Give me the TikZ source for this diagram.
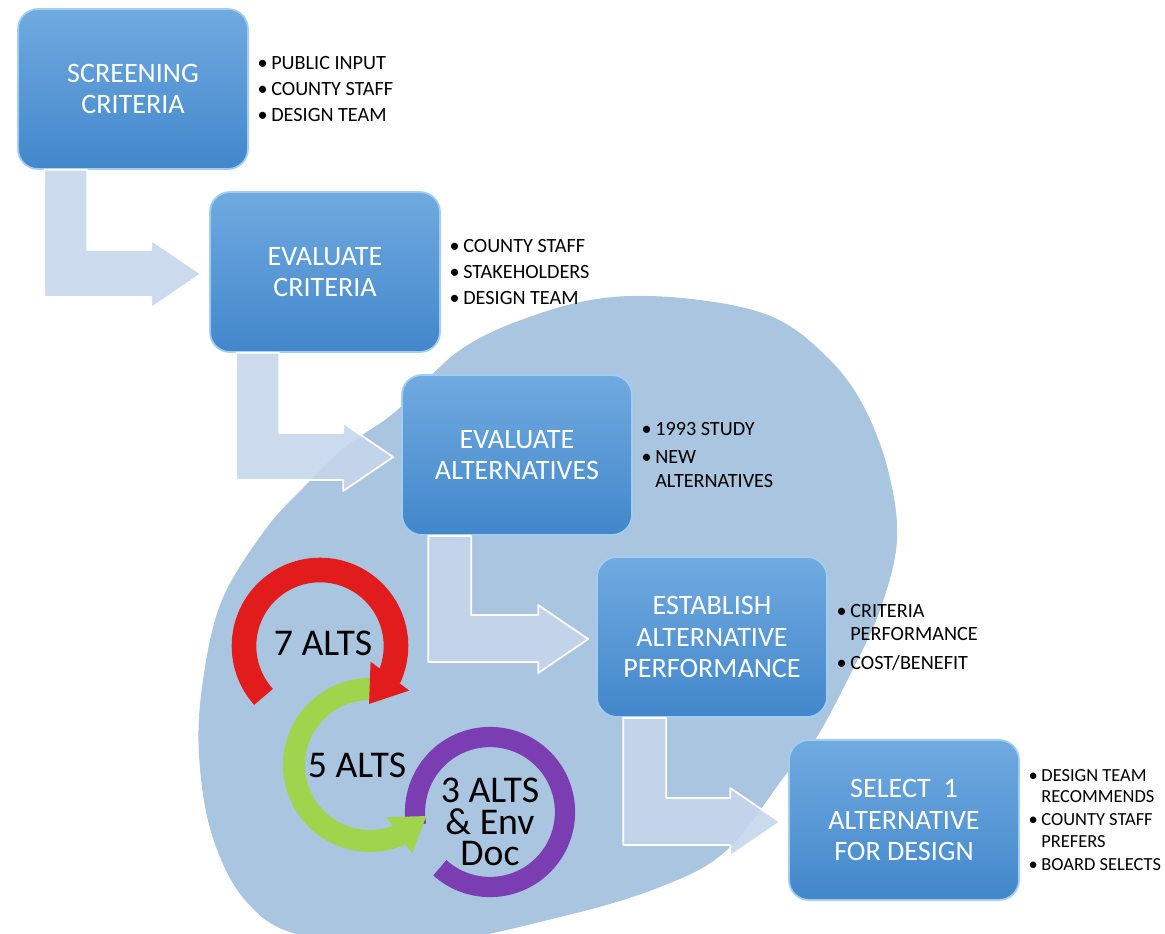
\documentclass[tikz,border=0pt]{standalone}
\usepackage{fontspec}
\setmainfont{Carlito}
\usetikzlibrary{positioning,calc,arrows.meta,bending}
\definecolor{blobblue}{RGB}{170,197,224}
\definecolor{boxtop}{RGB}{112,170,224}
\definecolor{boxbot}{RGB}{66,135,203}
\definecolor{boxrim}{RGB}{160,205,240}
\definecolor{arrowfill}{RGB}{198,214,236}
\definecolor{ringred}{RGB}{226,28,28}
\definecolor{ringgreen}{RGB}{160,212,76}
\definecolor{ringpurple}{RGB}{122,62,178}
\newcommand{\itm}{\textbullet\hspace{2pt}}
\newcommand{\cnt}{\hphantom{\textbullet\hspace{2pt}}}
\begin{document}
\begin{tikzpicture}[x=0.02cm,y=-0.02cm,line join=round,
	stepbox/.style={rounded corners=0.4cm,minimum width=4.6cm,minimum height=3.2cm,top color=boxtop,bottom color=boxbot,draw=boxrim,line width=1pt,text=white,align=center,font=\fontsize{16}{18}\selectfont},
	notes/.style={right=0.17cm of #1,align=left,inner sep=0pt,font=\fontsize{11.5}{13.5}\selectfont},
	flowarrow/.style={fill=arrowfill,draw=white,line width=1pt,fill opacity=.9},
	ring/.style={line width=#1,line cap=butt},
	alts/.style={font=\fontsize{21.5}{18}\selectfont,align=center}]
	\useasboundingbox (0,0) rectangle (1165,933);
	\fill[blobblue] plot[smooth cycle,tension=.6] coordinates {(613,297) (700,300) (775,318) (828,358) (863,405) (888,470) (897,540) (880,610) (850,675) (815,740) (787,773) (727,850) (660,887) (560,917) (420,945) (300,935) (245,900) (212,835) (199,755) (203,680) (222,600) (265,530) (303,488) (345,447) (395,412) (460,350) (535,315)};
	\node[stepbox] (b1) at (133,89) {SCREENING\\CRITERIA};
	\node[stepbox] (b2) at (325,272) {EVALUATE\\CRITERIA};
	\node[stepbox] (b3) at (517,455) {EVALUATE\\ALTERNATIVES};
	\node[stepbox] (b4) at (712,637) {ESTABLISH\\ALTERNATIVE\\PERFORMANCE};
	\node[stepbox] (b5) at (904,820) {SELECT\ \ 1\\ALTERNATIVE\\FOR DESIGN};
	\node[notes=b1] (n1) {\itm PUBLIC INPUT\\[1.5pt]\itm COUNTY STAFF\\[1.5pt]\itm DESIGN TEAM};
	\node[notes=b2] (n2) {\itm COUNTY STAFF\\[1.5pt]\itm STAKEHOLDERS\\[1.5pt]\itm DESIGN TEAM};
	\node[notes=b3] (n3) {\itm 1993 STUDY\\[2.5pt]\itm NEW\\\cnt ALTERNATIVES};
	\node[notes=b4] (n4) {\itm CRITERIA\\\cnt PERFORMANCE\\[2.5pt]\itm COST/BENEFIT};
	\node[notes=b5,font=\fontsize{10.5}{12}\selectfont] (n5) {\itm DESIGN TEAM\\\cnt RECOMMENDS\\[1.5pt]\itm COUNTY STAFF\\\cnt PREFERS\\[1.5pt]\itm BOARD SELECTS};
	\foreach \a/\b in {b1/b2,b2/b3,b3/b4,b4/b5}{
		\coordinate (p) at ($(\a.south west)+(27,0)$);
		\coordinate (q) at ($(\b.west)+(-8,2)$);
		\filldraw[flowarrow] (p) -- ++(43,0) |- ($(q)+(-50,-24)$) -- ++(0,-10) -- (q) -- ++(-50,34) -- ++(0,-11) -| (p) -- cycle;
	}
	\coordinate (c7) at (320,646);
	\coordinate (c5) at (370,765);
	\coordinate (c3) at (490,812);
	\draw[ring=11.5pt,ringpurple] (c3) ++(-228:75) arc[start angle=-228,end angle=-550,radius=75];
	\draw[ring=12.5pt,ringgreen,-{Triangle[width=24pt,length=19pt]}] (c5) ++(-80:76) arc[start angle=-80,end angle=-318,radius=76];
	\draw[ring=14pt,ringred,-{Triangle[width=26pt,length=20pt]}] (c7) ++(-222:76) arc[start angle=-222,end angle=50,radius=76];
	\node[alts] (l7) at (323,643) {7 ALTS};
	\node[alts] (l5) at (357,765) {5 ALTS};
	\node[alts] (l3) at (490,822) {3 ALTS\\\& Env\\Doc};
\end{tikzpicture}
\end{document}
